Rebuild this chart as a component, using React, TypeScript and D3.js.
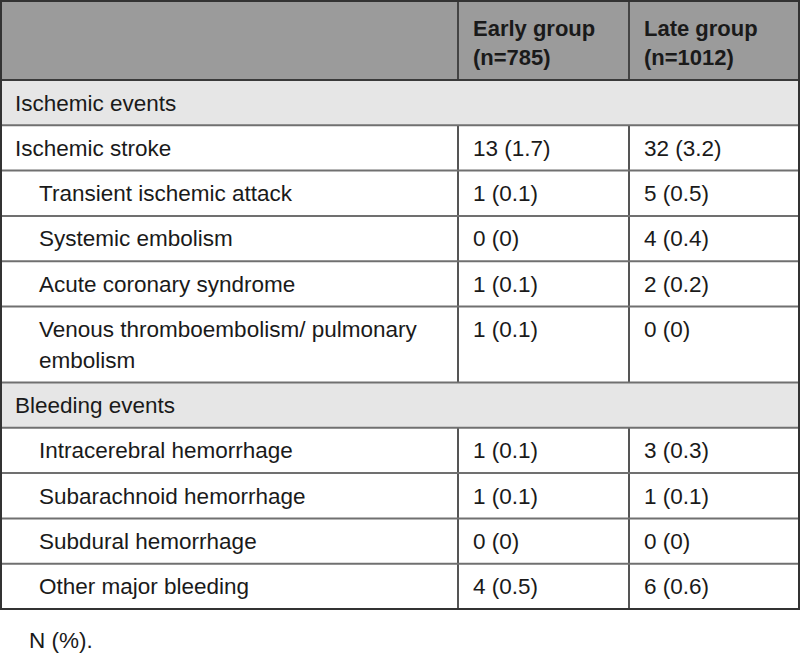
import React, { useEffect } from "react";
import * as d3 from "d3";

const headerLines = [
  ["Early group", "(n=785)"],
  ["Late group", "(n=1012)"],
];

const rowLabels: string[][] = [
  ["Ischemic events"],
  ["Ischemic stroke"],
  ["Transient ischemic attack"],
  ["Systemic embolism"],
  ["Acute coronary syndrome"],
  ["Venous thromboembolism/ pulmonary", "embolism"],
  ["Bleeding events"],
  ["Intracerebral hemorrhage"],
  ["Subarachnoid hemorrhage"],
  ["Subdural hemorrhage"],
  ["Other major bleeding"],
];
const rowKinds = ["section", "main", "sub", "sub", "sub", "sub", "section", "sub", "sub", "sub", "sub"];
const earlyValues = ["", "13 (1.7)", "1 (0.1)", "0 (0)", "1 (0.1)", "1 (0.1)", "", "1 (0.1)", "1 (0.1)", "0 (0)", "4 (0.5)"];
const lateValues = ["", "32 (3.2)", "5 (0.5)", "4 (0.4)", "2 (0.2)", "0 (0)", "", "3 (0.3)", "1 (0.1)", "0 (0)", "6 (0.6)"];
const footnote = "N (%).";

const W = 800;
const H = 657;
const FONT = "'Liberation Sans', Arial, Helvetica, sans-serif";
const TEXT = "#1a1a1a";

export default function App() {
  useEffect(() => {
    document.body.style.margin = "0";
  }, []);

  const left = 1;
  const right = 799;
  const top = 1;
  const headerBottom = 80;
  const colX = [left, 458, 629, right];

  const heights = rowLabels.map((l) => 14.6 + 30.7 * l.length);
  const cum = Array.from(d3.cumsum(heights));
  const y = d3.scaleLinear().domain([0, 1]).range([headerBottom, headerBottom + 1]);
  const rowTops = heights.map((_, i) => y(i === 0 ? 0 : cum[i - 1]));
  const rowBottoms = heights.map((_, i) => y(cum[i]));
  const tableBottom = rowBottoms[rowBottoms.length - 1];

  const fs = 22.5;

  return (
    <svg width={W} height={H} style={{ display: "block", background: "#fff" }} fontFamily={FONT}>
      {/* header background */}
      <rect x={left} y={top} width={right - left} height={headerBottom - top} fill="#9b9b9b" />
      {/* section rows background */}
      {rowKinds.map((k, i) =>
        k === "section" ? (
          <rect key={"bg" + i} x={left} y={rowTops[i]} width={right - left} height={rowBottoms[i] - rowTops[i]} fill="#e6e6e6" />
        ) : null
      )}
      {/* header column separators */}
      {[colX[1], colX[2]].map((x, j) => (
        <line key={"hc" + j} x1={x} x2={x} y1={top} y2={headerBottom} stroke="#444" strokeWidth={2} />
      ))}
      {/* row column separators */}
      {rowKinds.map((k, i) =>
        k !== "section"
          ? [colX[1], colX[2]].map((x, j) => (
              <line key={"rc" + i + "-" + j} x1={x} x2={x} y1={rowTops[i]} y2={rowBottoms[i]} stroke="#555" strokeWidth={2} />
            ))
          : null
      )}
      {/* row lines */}
      {rowBottoms.slice(0, -1).map((yb, i) => (
        <line key={"rl" + i} x1={left} x2={right} y1={yb} y2={yb} stroke="#707070" strokeWidth={2} />
      ))}
      {/* header bottom */}
      <line x1={left} x2={right} y1={headerBottom} y2={headerBottom} stroke="#3a3a3a" strokeWidth={2} />
      {/* outer border */}
      <rect x={left} y={top} width={right - left} height={tableBottom - top} fill="none" stroke="#333" strokeWidth={2} />

      {/* header text */}
      {headerLines.map((lines, j) =>
        lines.map((t, li) => (
          <text key={"ht" + j + li} x={colX[j + 1] + 15} y={36 + li * 28.5} fontSize={22} fontWeight={700} fill={TEXT}>
            {t}
          </text>
        ))
      )}

      {/* row text */}
      {rowLabels.map((lines, i) => {
        const indent = rowKinds[i] === "sub" ? 39 : 15;
        return (
          <g key={"r" + i}>
            {lines.map((t, li) => (
              <text key={li} x={indent} y={rowTops[i] + 30.5 + li * 31} fontSize={fs} fill={TEXT}>
                {t}
              </text>
            ))}
            {earlyValues[i] ? (
              <text x={colX[1] + 15} y={rowTops[i] + 30.5} fontSize={fs} fill={TEXT}>
                {earlyValues[i]}
              </text>
            ) : null}
            {lateValues[i] ? (
              <text x={colX[2] + 15} y={rowTops[i] + 30.5} fontSize={fs} fill={TEXT}>
                {lateValues[i]}
              </text>
            ) : null}
          </g>
        );
      })}

      <text x={29} y={648} fontSize={fs} fill={TEXT}>
        {footnote}
      </text>
    </svg>
  );
}
